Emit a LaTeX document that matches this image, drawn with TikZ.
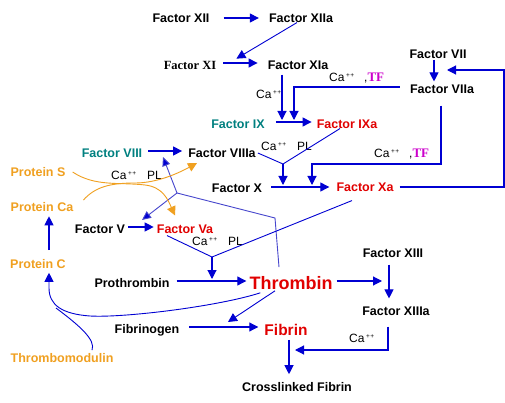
\documentclass[tikz,border=0pt]{standalone}
\usepackage{fontspec}
\setmainfont{Liberation Sans}
\newfontfamily\seriffam{Liberation Serif}
\usetikzlibrary{arrows.meta}
\definecolor{ablue}{RGB}{0,0,210}
\definecolor{lblue}{RGB}{70,70,205}
\definecolor{fred}{RGB}{225,0,0}
\definecolor{fteal}{RGB}{0,128,128}
\definecolor{forange}{RGB}{240,160,32}
\definecolor{tfmag}{RGB}{204,0,204}
\newcommand{\cpp}{Ca\hspace{1.5pt}\raisebox{4pt}{\fontsize{6.5}{7}\selectfont+\hspace{0.6pt}+}}
\newcommand{\tfx}{\textcolor{tfmag}{\fontsize{13}{14}\selectfont\seriffam\bfseries TF}}
\begin{document}
\begin{tikzpicture}[x=1pt,y=-1pt,
  lab/.style={font=\fontsize{12.5}{14}\selectfont\bfseries, inner sep=0pt},
  cal/.style={font=\fontsize{12}{14}\selectfont, inner sep=0pt, anchor=west},
  arr/.style={draw=ablue, line width=1.1pt, -{Triangle[length=9pt,width=9pt]}},
  ln/.style={draw=ablue, line width=0.9pt},
  thinl/.style={draw=lblue, line width=0.9pt},
  tarr/.style={draw=lblue, line width=0.9pt, -{Triangle[length=9pt,width=8pt,fill=ablue]}},
  oarr/.style={draw=forange, line width=0.9pt, -{Triangle[length=9pt,width=9pt]}}]
\fill[white] (0,0) rectangle (505,403);
\useasboundingbox (0,0) rectangle (505,403);

% nodes
\node[lab] (xii) at (181,18) {Factor XII};
\node[lab] (xiia) at (301,18) {Factor XIIa};
\node[lab,font=\fontsize{12.5}{14}\selectfont\seriffam\bfseries] (xi) at (190,65) {Factor XI};
\node[lab] (xia) at (298,65) {Factor XIa};
\node[lab] (vii) at (438,54) {Factor VII};
\node[lab] (viia) at (442,89) {Factor VIIa};
\node[lab,text=fteal] (ix) at (238,124) {Factor IX};
\node[lab,text=fred] (ixa) at (347,124) {Factor IXa};
\node[lab,text=fteal] (viii) at (112,153) {Factor VIII};
\node[lab] (viiia) at (222,153) {Factor VIIIa};
\node[lab] (fx) at (237,188) {Factor X};
\node[lab,text=fred] (xa) at (365,187) {Factor Xa};
\node[lab,text=forange] (ps) at (38,172) {Protein S};
\node[lab,text=forange] (pca) at (42,207) {Protein Ca};
\node[lab,text=forange] (pc) at (38,264) {Protein C};
\node[lab,text=forange] (tm) at (62,358) {Thrombomodulin};
\node[lab] (fv) at (100,229) {Factor V};
\node[lab,text=fred] (va) at (185,229) {Factor Va};
\node[lab] (pro) at (132,283) {Prothrombin};
\node[lab,text=fred,font=\fontsize{18}{20}\selectfont\bfseries] (thr) at (291,283) {Thrombin};
\node[lab] (xiii) at (393,253) {Factor XIII};
\node[lab] (xiiia) at (396,311) {Factor XIIIa};
\node[lab] (fgn) at (147,330) {Fibrinogen};
\node[lab,text=fred,font=\fontsize{15.5}{18}\selectfont\bfseries] (fib) at (286,330) {Fibrin};
\node[lab] (cfib) at (297,387) {Crosslinked Fibrin};

% cofactor labels
\node[cal] (c1) at (256,94) {\cpp};
\node[cal] (c2) at (329,78) {\cpp\hspace{10pt},\tfx};
\node[cal] (c3) at (261,146) {\cpp\hspace{11pt}PL};
\node[cal] (c4) at (374,154) {\cpp\hspace{10pt},\tfx};
\node[cal] (c5) at (111,175) {\cpp\hspace{11pt}PL};
\node[cal] (c6) at (192,241) {\cpp\hspace{11pt}PL};
\node[cal] (c7) at (349,338) {\cpp};

% junctions / targets
\coordinate (t1) at (282,120);
\coordinate (t2) at (294,120);
\coordinate (j1) at (283,164);
\coordinate (t3) at (283,185);
\coordinate (k4) at (312,164);
\coordinate (t4) at (312,185);
\coordinate (k5) at (504,70);
\coordinate (t5) at (447,70);
\coordinate (j2) at (177,193);
\coordinate (k6) at (275,218);
\coordinate (t6) at (163,157);
\coordinate (t7) at (142,220);
\coordinate (j3) at (212,257);
\coordinate (t8) at (212,279);
\coordinate (t9) at (382,281);
\coordinate (t10) at (228,322);
\coordinate (k11) at (388,350);
\coordinate (t11) at (295,350);

% connectors
\draw[arr,shorten <=14pt,shorten >=10pt] (xii.east) -- (xiia.west);
\draw[arr,line width=0.9pt] ([xshift=-4pt]xiia.south) -- ([xshift=20pt,yshift=2pt]xi.north east);
\draw[arr,shorten <=7pt,shorten >=10pt] ([yshift=2pt]xi.east) -- ([yshift=2pt]xia.west);
\draw[arr] ([xshift=-4pt,yshift=-1pt]vii.south) -- ([xshift=-8pt,yshift=3pt]viia.north);
\draw[arr] ([xshift=-10pt,yshift=2pt]viia.west) -| (t2);
\draw[arr] ([xshift=-16pt,yshift=-5pt]xia.south) -- (t1);
\draw[arr,shorten <=11pt,shorten >=5pt] ([yshift=2pt]ix.east) -- ([yshift=2pt]ixa.west);
\draw[ln] ([xshift=2pt]viiia.east) -- (j1) -- ([xshift=-7pt]ixa.south);
\draw[arr] (j1) -- (t3);
\draw[arr,shorten <=9pt,shorten >=7pt] ([yshift=1pt]fx.east) -- (xa.west);
\draw[arr] ([xshift=-1pt,yshift=-12pt]viia.south) |- (k4) -- (t4);
\draw[arr] ([xshift=6pt]xa.east) -| (k5) -- (t5);
\draw[arr,shorten <=6pt,shorten >=6pt] ([yshift=2pt]viii.east) -- ([yshift=2pt]viiia.west);
\draw[thinl] ([xshift=-12pt,yshift=9pt]thr.north) -- (k6) -- (j2);
\draw[tarr] (j2) -- (t6);
\draw[tarr] (j2) -- (t7);
\draw[arr,shorten <=3pt,shorten >=3pt] ([yshift=2pt]fv.east) -- ([yshift=2pt]va.west);
\draw[ln] ([xshift=-18pt,yshift=-2pt]va.south) -- (j3) -- ([xshift=-13pt,yshift=-9pt]xa.south);
\draw[arr] (j3) -- (t8);
\draw[arr,shorten <=7pt,shorten >=3pt] ([yshift=2pt]pro.east) -- ([yshift=2pt]thr.west);
\draw[arr,shorten <=4pt] ([yshift=2pt]thr.east) -- (t9);
\draw[arr] ([xshift=-4pt,yshift=-7pt]xiii.south) -- ([xshift=-7pt,yshift=8pt]xiiia.north);
\draw[arr,line width=0.9pt] ([xshift=-16pt,yshift=-1pt]thr.south) -- (t10);
\draw[arr,shorten <=10pt,shorten >=6pt] ([yshift=3pt]fgn.east) -- ([yshift=3pt]fib.west);
\draw[arr] ([xshift=3pt,yshift=-4pt]fib.south) -- ([xshift=-8pt,yshift=8pt]cfib.north);
\draw[arr] ([xshift=-8pt,yshift=-11pt]xiiia.south) -- (k11) -- (t11);
\draw[arr] ([xshift=11pt,yshift=9pt]pc.north) -- ([xshift=7pt,yshift=-4.5pt]pca.south);
\draw[arr,line width=0.9pt] ([xshift=11pt,yshift=-3pt]thr.south west) .. controls (220,306) and (125,318) .. (90,316) .. controls (62,314) and (49,305) .. (49,288) -- ([xshift=11pt,yshift=-4pt]pc.south);
\draw[ln] ([xshift=30pt,yshift=3pt]tm.north) .. controls (96,340) and (80,326) .. (56,308);
\draw[oarr] ([xshift=7pt]ps.east) .. controls (95,187) and (120,182) .. (145,185) .. controls (163,187) and (168,200) .. ([xshift=-10pt,yshift=9pt]va.north);
\draw[oarr] ([xshift=10pt,yshift=7pt]pca.east) .. controls (95,187) and (110,183) .. (135,183) .. controls (155,183) and (175,175) .. ([xshift=-25pt,yshift=-5.5pt]viiia.south);
\end{tikzpicture}
\end{document}
